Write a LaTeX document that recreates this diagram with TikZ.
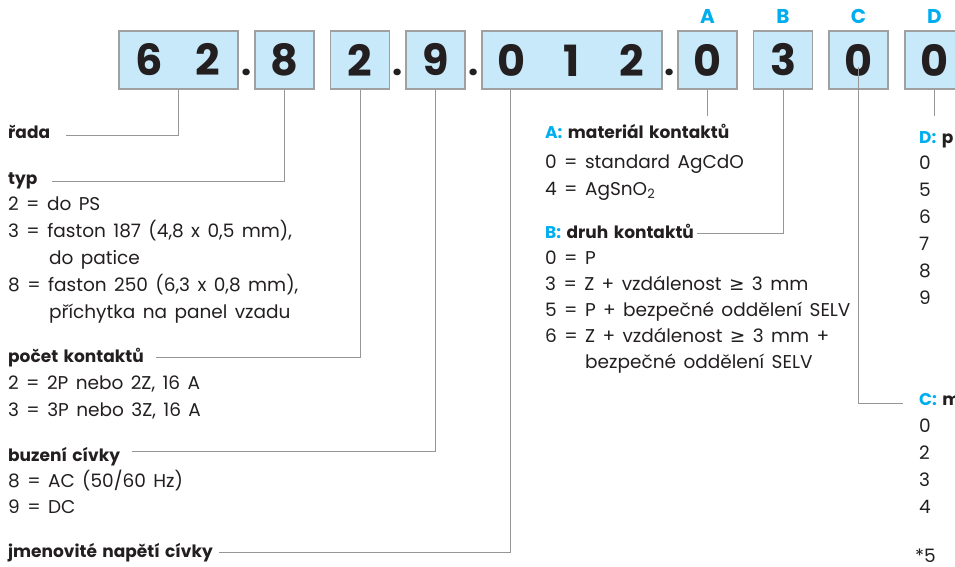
\documentclass[tikz,border=0pt]{standalone}
\usepackage{fontspec}
\setmainfont{Poppins}[WordSpace=1.5]
\newfontfamily\symfont{DejaVu Sans}
\definecolor{boxblue}{RGB}{199,233,249}
\definecolor{boxgray}{RGB}{160,160,160}
\definecolor{linegray}{RGB}{150,150,150}
\definecolor{cyanc}{RGB}{0,174,239}
\definecolor{txt}{RGB}{35,31,32}
\begin{document}
\begin{tikzpicture}[x=1pt,y=-1pt,
  box/.style={draw=boxgray, line width=1.3pt, fill=boxblue, minimum height=58pt, inner sep=0pt, text=txt, font=\fontsize{43}{43}\selectfont\bfseries},
  conn/.style={draw=linegray, line width=1pt},
  txtn/.style={anchor=base west, inner sep=0pt, text=txt, font=\fontsize{18.5}{20}\selectfont},
  head/.style={anchor=base west, inner sep=0pt, text=txt, font=\fontsize{17}{20}\selectfont\bfseries},
  letter/.style={anchor=base, inner sep=0pt, text=cyanc, font=\fontsize{20}{20}\selectfont\bfseries},
  dotn/.style={anchor=base, inner sep=0pt, text=txt, font=\fontsize{36}{36}\selectfont\bfseries}
]
\useasboundingbox (0,0) rectangle (955,567);
\clip (0,0) rectangle (955,567);

% code boxes
\node[box, minimum width=119pt] (b62) at (178.5,60) {\makebox[59.5pt]{6}\makebox[59.5pt]{2}};
\node[box, minimum width=59pt] (b8) at (284.5,60) {8};
\node[box, minimum width=59pt] (b2) at (360,60) {2};
\node[box, minimum width=59pt] (b9) at (435.5,60) {9};
\node[box, minimum width=180pt] (b012) at (572,60) {\makebox[60pt]{0}\makebox[60pt]{1}\makebox[60pt]{2}};
\node[box, minimum width=59pt] (bA) at (707.5,60) {0};
\node[box, minimum width=59pt] (bB) at (783,60) {3};
\node[box, minimum width=59pt] (bC) at (858.5,60) {0};
\node[box, minimum width=59pt] (bD) at (934.5,60) {0};

% separating dots
\node[dotn] (d1) at (246.5,76) {.};
\node[dotn] (d2) at (397.5,76) {.};
\node[dotn] (d3) at (473.5,76) {.};
\node[dotn] (d4) at (670,76) {.};

% letters
\node[letter] (lA) at (707.5,24) {A};
\node[letter] (lB) at (783,24) {B};
\node[letter] (lC) at (858.5,24) {C};
\node[letter] (lD) at (934.5,24) {D};

% left column
\node[head] (rada) at (8,139) {řada};
\node[head] (typ) at (8,184) {typ};
\node[txtn] (t1) at (8,210) {2 = do PS};
\node[txtn] (t2) at (8,237) {3 = faston 187 (4,8 x 0,5 mm),};
\node[txtn] (t3) at (49,264) {do patice};
\node[txtn] (t4) at (8,291) {8 = faston 250 (6,3 x 0,8 mm),};
\node[txtn] (t5) at (49,318) {příchytka na panel vzadu};
\node[head] (pocet) at (8,362) {počet kontaktů};
\node[txtn] (p1) at (8,389) {2 = 2P nebo 2Z, 16 A};
\node[txtn] (p2) at (8,416) {3 = 3P nebo 3Z, 16 A};
\node[head] (buz) at (8,461) {buzení cívky};
\node[txtn] (z1) at (8,487) {8 = AC (50/60 Hz)};
\node[txtn] (z2) at (8,513) {9 = DC};
\node[head] (jmen) at (8,557) {jmenovité napětí cívky};

% middle column
\node[head] (hA) at (545,139) {\textcolor{cyanc}{A:} materiál kontaktů};
\node[txtn] (a1) at (545,168) {0 = standard AgCdO};
\node[txtn] (a2) at (545,195) {4 = AgSnO\textsubscript{2}};
\node[head] (hB) at (545,238) {\textcolor{cyanc}{B:} druh kontaktů};
\node[txtn] (s1) at (545,264) {0 = P};
\node[txtn] (s2) at (545,290) {3 = Z + vzdálenost {\symfont ≥} 3 mm};
\node[txtn] (s3) at (545,316) {5 = P + bezpečné oddělení SELV};
\node[txtn] (s4) at (545,342) {6 = Z + vzdálenost {\symfont ≥} 3 mm +};
\node[txtn] (s5) at (585,368) {bezpečné oddělení SELV};

% right column
\node[head] (hD) at (919,143) {\textcolor{cyanc}{D:} p};
\node[txtn] (r1) at (919,169) {0};
\node[txtn] (r2) at (919,196) {5};
\node[txtn] (r3) at (919,223) {6};
\node[txtn] (r4) at (919,250) {7};
\node[txtn] (r5) at (919,277) {8};
\node[txtn] (r6) at (919,304) {9};
\node[head] (hC) at (919,405) {\textcolor{cyanc}{C:} m};
\node[txtn] (c1) at (919,432) {0};
\node[txtn] (c2) at (919,459) {2};
\node[txtn] (c3) at (919,486) {3};
\node[txtn] (c4) at (919,513) {4};
\node[txtn] (c5) at (915,562) {*5};

% connectors
\coordinate (eR) at (66,135);
\draw[conn] (b62.south) |- (eR);
\coordinate (eT) at (52,181);
\draw[conn] (b8.south) |- (eT);
\coordinate (eP) at (156,357);
\draw[conn] (b2.south) |- (eP);
\coordinate (eBz) at (132,451);
\draw[conn] (b9.south) |- (eBz);
\coordinate (eJ) at (219,552);
\draw[conn] ([xshift=29.5pt]b012.south west) |- (eJ);
\coordinate (eA) at (707.5,116);
\draw[conn] (bA.south) -- (eA);
\coordinate (eB) at (697,233);
\draw[conn] (bB.south) |- (eB);
\coordinate (eC) at (903,403);
\draw[conn] ([yshift=-7pt]bC.center) |- (eC);
\coordinate (eD) at (934.5,116);
\draw[conn] (bD.south) -- (eD);
\end{tikzpicture}
\end{document}
